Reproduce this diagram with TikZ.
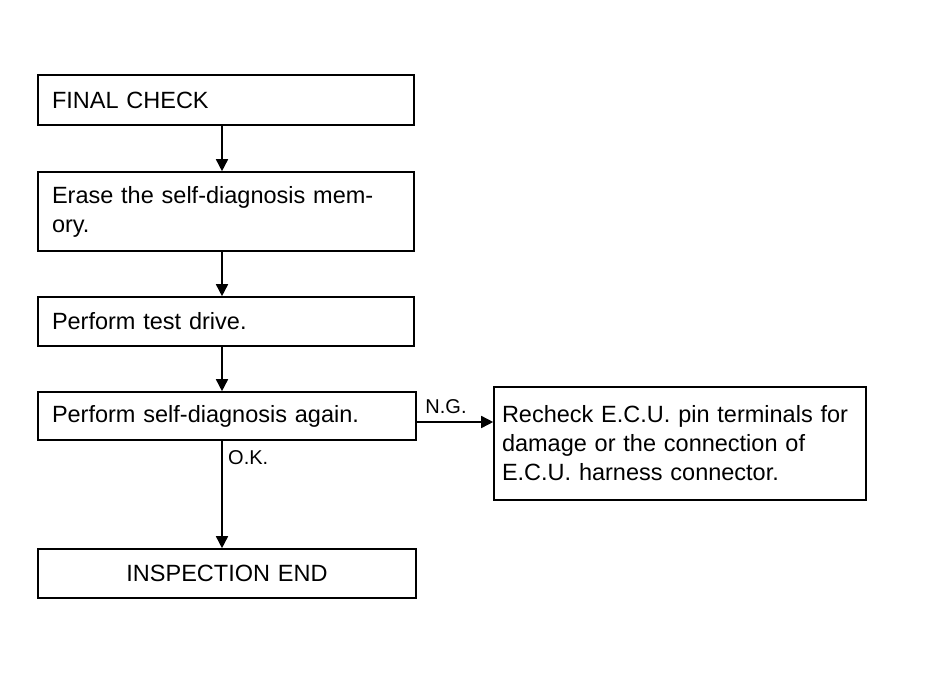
\documentclass[tikz,border=0pt]{standalone}
\usepackage{fontspec}
\setmainfont{Liberation Sans}
\usetikzlibrary{arrows.meta}
\begin{document}
\begin{tikzpicture}[x=1pt,y=-1pt,
  box/.style={draw, line width=1.6pt, rectangle, inner xsep=14pt, inner ysep=0pt,
    align=left, font=\fontsize{23.5}{29}\selectfont},
  arr/.style={line width=1.6pt, -{Triangle[length=12pt,width=12pt]}},
  lbl/.style={font=\fontsize{20}{24}\selectfont, inner sep=0pt}]
\useasboundingbox (0,0) rectangle (951,682);
\node[box, minimum width=376pt, minimum height=50pt, text width=348pt] (fc) at (226,100) {FINAL CHECK};
\node[box, minimum width=376pt, minimum height=79pt, text width=348pt] (er) at (226,211.5) {Erase the self-diagnosis mem-\\ory.};
\node[box, minimum width=376pt, minimum height=49pt, text width=348pt] (td) at (226,321.5) {Perform test drive.};
\node[box, minimum width=378pt, minimum height=48pt, text width=350pt] (sd) at (227,416) {Perform self-diagnosis again.};
\node[box, minimum width=378pt, minimum height=49pt, text width=350pt, align=center] (ie) at (227,573.5) {INSPECTION END};
\node[box, minimum width=372pt, minimum height=113pt, inner xsep=8pt, text width=356pt] (rc) at (680,443.5) {Recheck E.C.U. pin terminals for\\damage or the connection of\\E.C.U. harness connector.};
\coordinate (ax) at (222,0);
\coordinate (ng) at (416,422);
\draw[arr] (fc.south -| ax) -- (er.north -| ax);
\draw[arr] (er.south -| ax) -- (td.north -| ax);
\draw[arr] (td.south -| ax) -- (sd.north -| ax);
\draw[arr] (sd.south -| ax) -- (ie.north -| ax);
\draw[arr] (sd.east |- ng) -- (rc.west |- ng);
\node[lbl] (nglbl) at (446,407) {N.G.};
\node[lbl, anchor=west] (oklbl) at (228,458) {O.K.};
\end{tikzpicture}
\end{document}
